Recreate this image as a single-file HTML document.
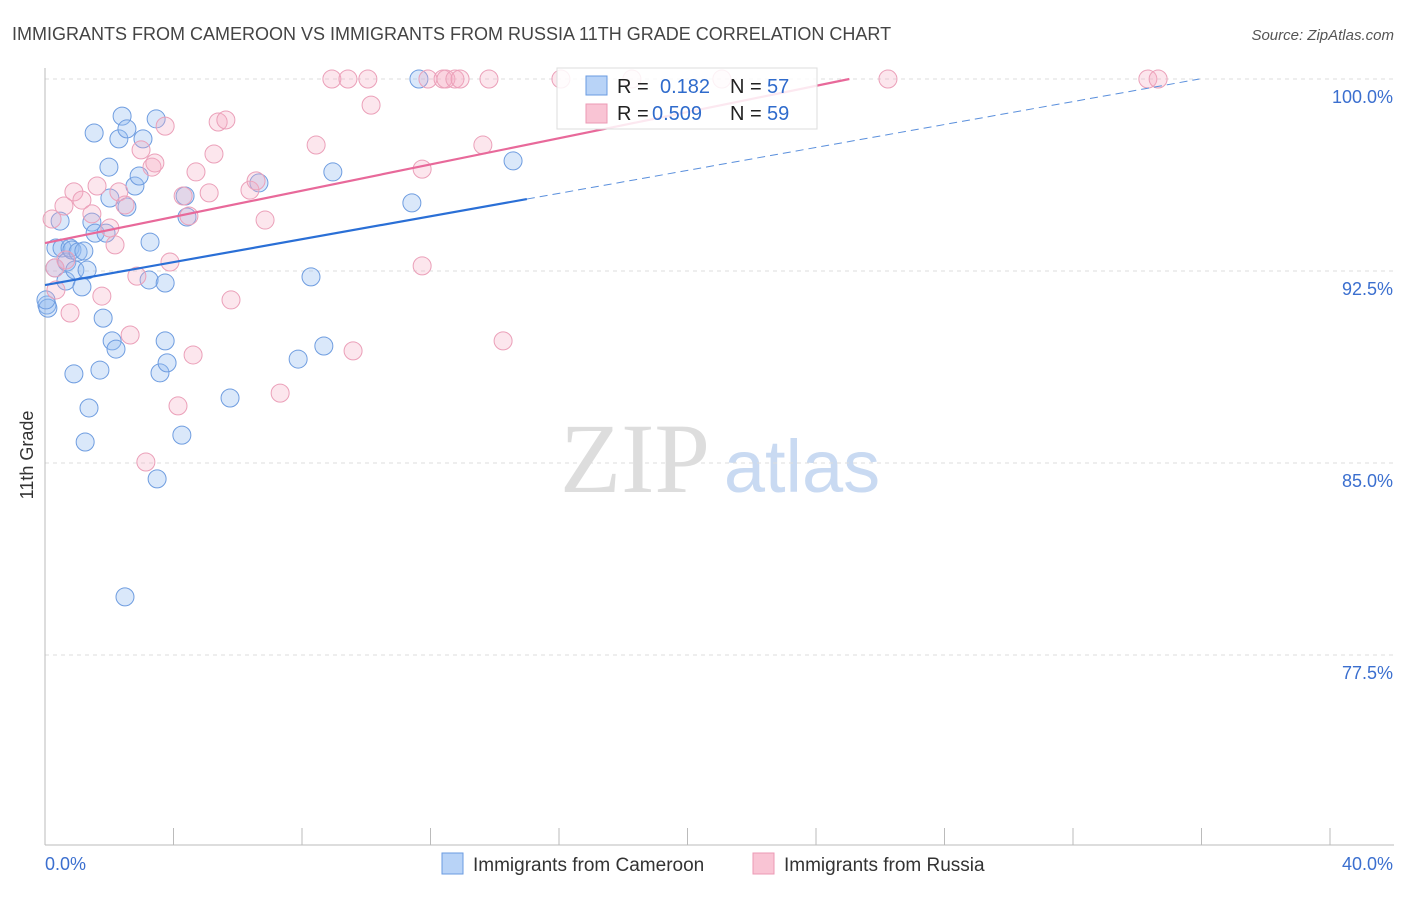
<!DOCTYPE html>
<html><head><meta charset="utf-8"><style>
body{margin:0;background:#fff;font-family:"Liberation Sans",sans-serif;}
svg text{font-family:"Liberation Sans",sans-serif;}
</style></head><body>
<svg id="chart" width="1406" height="892">
<text x="12" y="40" font-size="18" fill="#444">IMMIGRANTS FROM CAMEROON VS IMMIGRANTS FROM RUSSIA 11TH GRADE CORRELATION CHART</text>
<text x="1394" y="40" font-size="15" fill="#555" font-style="italic" text-anchor="end">Source: ZipAtlas.com</text>
<text x="33" y="455" font-size="18" fill="#333" text-anchor="middle" transform="rotate(-90 33 455)">11th Grade</text>
<g>
<text x="635" y="492" font-size="100" fill="#ddd" text-anchor="middle" font-family="Liberation Serif" style="font-family:'Liberation Serif',serif">ZIP</text>
<text x="802" y="492" font-size="74" fill="#c9daf2" text-anchor="middle">atlas</text>
</g>
<g id="grid"></g><g id="axes"></g><g id="marks"></g>
<g>
<rect x="557" y="68" width="260" height="61" fill="#fff" fill-opacity="0.85" stroke="#ddd"/>
<rect x="586" y="76" width="21" height="19" fill="#b8d3f7" stroke="#6a9be0"/>
<rect x="586" y="104" width="21" height="19" fill="#f9c4d4" stroke="#ec9ab5"/>
<text x="617" y="93" font-size="20" fill="#222">R = </text><text x="660" y="93" font-size="20" fill="#2f6bcc">0.182</text>
<text x="730" y="93" font-size="20" fill="#222">N = </text><text x="767" y="93" font-size="20" fill="#2f6bcc">57</text>
<text x="617" y="120" font-size="20" fill="#222">R = </text><text x="652" y="120" font-size="20" fill="#2f6bcc">0.509</text>
<text x="730" y="120" font-size="20" fill="#222">N = </text><text x="767" y="120" font-size="20" fill="#2f6bcc">59</text>
</g>
<g>
<rect x="442" y="853" width="21" height="21" fill="#b8d3f7" stroke="#6a9be0"/>
<text x="473" y="871" font-size="19" fill="#333">Immigrants from Cameroon</text>
<rect x="753" y="853" width="21" height="21" fill="#f9c4d4" stroke="#ec9ab5"/>
<text x="784" y="871" font-size="19" fill="#333">Immigrants from Russia</text>
</g>
</svg>
<script>
const yTicks=[100,92.5,85,77.5];
const yTickLabels=["100.0%","92.5%","85.0%","77.5%"];
const xTicks=[0,4,8,12,16,20,24,28,32,36,40];
const xEndLabels=["0.0%","40.0%"];
const blueX=[0.06,0.09,0.31,0.47,0.34,0.53,0.65,0.68,0.78,0.84,1.03,0.93,1.31,1.15,0.90,1.37,1.25,1.53,1.46,1.56,1.71,1.81,1.90,1.99,2.02,2.09,2.21,2.30,2.40,2.55,2.55,2.49,2.80,2.93,3.05,3.27,3.24,3.46,3.58,3.74,3.80,3.74,4.26,3.49,4.36,4.42,5.76,6.66,7.88,8.28,8.68,8.96,11.42,11.64,14.57,1.21,0.03];
const blueY=[91.17,91.05,92.62,94.45,93.40,93.40,92.11,92.85,93.40,93.32,93.24,92.54,92.54,91.88,88.48,87.15,85.82,97.89,94.41,93.98,88.63,90.66,93.98,96.56,95.35,89.77,89.45,97.66,98.55,98.05,95.00,79.77,95.82,96.21,97.66,93.63,92.15,98.44,88.52,89.77,88.91,92.03,86.09,84.38,95.43,94.61,87.54,95.94,89.06,92.27,89.57,96.37,95.16,100,96.80,93.28,91.37];
const pinkX=[0.22,0.31,0.34,0.59,0.78,0.90,1.15,1.46,1.62,1.77,2.02,2.18,2.30,2.49,2.65,2.86,2.99,3.14,3.33,3.42,3.74,3.89,4.14,4.30,4.48,4.61,4.70,5.11,5.26,5.39,5.63,5.79,6.38,6.57,6.85,7.32,8.44,8.93,9.43,10.05,10.15,9.59,11.74,11.74,11.92,12.39,12.48,12.76,12.92,13.63,13.82,14.26,16.06,18.27,21.07,26.24,34.33,34.65,0.65];
const pinkY=[94.53,92.62,91.76,95.04,90.86,95.59,95.27,94.73,95.82,91.52,94.18,93.52,95.59,95.08,90.00,92.30,97.23,85.04,96.56,96.72,98.16,92.85,87.23,95.43,94.65,89.22,96.37,95.55,97.07,98.32,98.40,91.37,95.66,96.02,94.49,87.73,97.42,100,100,100,98.98,89.38,96.48,92.70,100,100,100,100,100,97.42,100,89.77,100,100,100,100,100,100,92.93];
const blueTrend=[91.95,0.224];
const pinkTrend=[93.59,0.256];
const NS="http://www.w3.org/2000/svg";
const X=v=>45+v*1285/40;
const Y=v=>79+(100-v)*192/7.5;
function mk(tag,attrs,parent){const e=document.createElementNS(NS,tag);for(const k in attrs)e.setAttribute(k,attrs[k]);document.getElementById(parent).appendChild(e);return e;}
yTicks.forEach((t,i)=>{
 const l=mk('line',{x1:45,x2:1394,y1:Y(t),y2:Y(t),stroke:'#ddd','stroke-dasharray':'4,4'},'grid');
 
 
 const tx=mk('text',{x:1393,y:Y(t)+24,'font-size':18,fill:'#3b6fcf','text-anchor':'end'},'axes');
 tx.textContent=yTickLabels[i];
 
 
});
const ax=mk('line',{x1:45,x2:45,y1:68,y2:845,stroke:'#bbb'},'axes');


const bx=mk('line',{x1:45,x2:1394,y1:845,y2:845,stroke:'#bbb'},'axes');


xTicks.forEach(t=>{
 const l=mk('line',{x1:X(t),x2:X(t),y1:828,y2:845,stroke:'#bbb'},'axes');
 
 
});
const xl0=mk('text',{x:45,y:870,'font-size':18,fill:'#3b6fcf'},'axes');xl0.textContent=xEndLabels[0];


const xl1=mk('text',{x:1393,y:870,'font-size':18,fill:'#3b6fcf','text-anchor':'end'},'axes');xl1.textContent=xEndLabels[1];


blueX.forEach((v,i)=>{
 const c=mk('circle',{cx:X(v),cy:Y(blueY[i]),r:9,fill:'rgba(150,190,240,0.35)',stroke:'#6f9de0','stroke-width':1},'marks');
 
 
});
pinkX.forEach((v,i)=>{
 const c=mk('circle',{cx:X(v),cy:Y(pinkY[i]),r:9,fill:'rgba(246,172,196,0.3)',stroke:'#eba0b9','stroke-width':1},'marks');
 
 
});
const b1=mk('line',{x1:X(0),y1:Y(blueTrend[0]),x2:X(15),y2:Y(blueTrend[0]+15*blueTrend[1]),stroke:'#2a6fd6','stroke-width':2.2},'marks');


const xe=(100-blueTrend[0])/blueTrend[1];
const b2=mk('line',{x1:X(15),y1:Y(blueTrend[0]+15*blueTrend[1]),x2:X(xe),y2:Y(100),stroke:'#5a8fdc','stroke-width':1,'stroke-dasharray':'8,5'},'marks');


const pe=(100-pinkTrend[0])/pinkTrend[1];
const p1=mk('line',{x1:X(0),y1:Y(pinkTrend[0]),x2:X(pe),y2:Y(100),stroke:'#e8699a','stroke-width':2.2},'marks');


</script>
</body></html>
